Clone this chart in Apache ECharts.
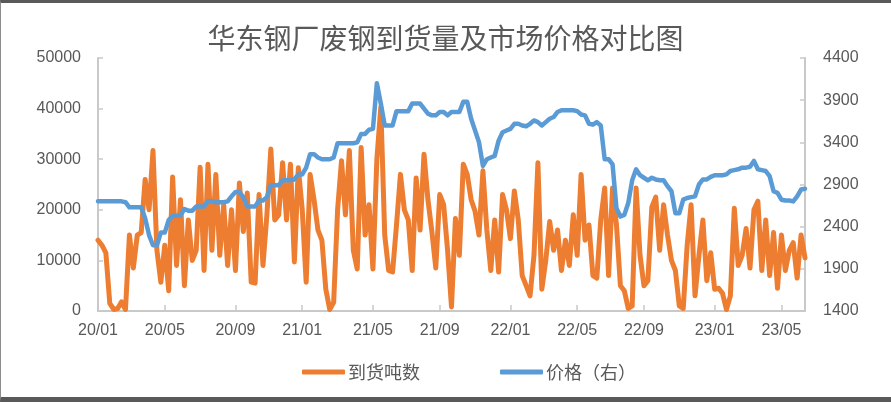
<!DOCTYPE html>
<html>
<head>
<meta charset="utf-8">
<title>华东钢厂废钢到货量及市场价格对比图</title>
<script src="https://cdn.jsdelivr.net/npm/echarts@6/dist/echarts.min.js"></script>
<style>
  html, body { margin: 0; padding: 0; background: #fff; }
  #wrap { position: relative; width: 891px; height: 402px; }
  #chart { position: absolute; left: 0; top: 0; width: 891px; height: 402px; }
  #frame { position: absolute; left: 0; top: 0; width: 891px; height: 402px; box-sizing: border-box;
           border-top: 3px solid #595959; border-bottom: 5px solid #595959; border-left: 1px solid #8c8c8c;
           pointer-events: none; }
</style>
</head>
<body>
<div id="wrap">
  <div id="chart"></div>
  <div id="frame"></div>
</div>
<script>
// 周度数据，起始 2020-01-03
const startDate = '2020-01-03';
const weekCount = 181;

// 到货吨数（左轴）
const arrivals = [
  14000, 13000, 11500, 1500, 300, 500, 1800, 300, 15000, 8500,
  15000, 15500, 26000, 20000, 31700, 12000, 5700, 13000, 4000, 26500,
  9000, 22000, 5000, 18000, 10000, 12000, 28400, 8000, 29000, 12000,
  27000, 11000, 21000, 9000, 20000, 8000, 25300, 15700, 23300, 5700,
  5500, 23000, 9000, 19000, 32000, 18000, 19000, 29300, 18000, 29000,
  9700, 28300, 20000, 5700, 27000, 22000, 16000, 14000, 4300, 300,
  1700, 20000, 29700, 19000, 31700, 12000, 8300, 32300, 15000, 21000,
  8300, 30000, 40300, 15000, 8000, 7700, 17000, 27000, 20000, 18000,
  8000, 26300, 16000, 31000, 22000, 15700, 8500, 23000, 21000, 12000,
  800, 18300, 11000, 29000, 27000, 22000, 19700, 15000, 27700, 16000,
  8000, 18000, 7700, 23000, 20000, 14300, 23700, 18000, 7000, 5000,
  3000, 11000, 29300, 4300, 10000, 17700, 12000, 16000, 8000, 14000,
  9000, 19000, 11000, 27000, 14000, 17000, 7000, 6500, 18000, 24300,
  7000, 24300, 17000, 5000, 4000, 500, 1000, 24300, 11000, 5000,
  6000, 20500, 22500, 12000, 21000, 15000, 10000, 8000, 1000, 500,
  13000, 21000, 3000, 11000, 18000, 6000, 11500, 4300, 4500, 3500,
  300, 3000, 20300, 9000, 11000, 16300, 8500, 20000, 21700, 8000,
  18000, 7000, 15500, 4500, 15000, 8000, 12000, 13500, 6500, 15000,
  10500
];

// 价格（右轴）
const prices = [
  2700, 2700, 2700, 2700, 2700, 2700, 2700, 2690, 2630, 2630,
  2630, 2630, 2500, 2300, 2180, 2180, 2330, 2330, 2480, 2530,
  2530, 2530, 2610, 2590, 2590, 2640, 2640, 2640, 2700, 2700,
  2690, 2690, 2690, 2700, 2760, 2810, 2810, 2750, 2640, 2640,
  2640, 2710, 2710, 2750, 2890, 2890, 2890, 2950, 2950, 2950,
  2960, 3020, 3020, 3100, 3260, 3260, 3220, 3200, 3200, 3200,
  3220, 3390, 3390, 3390, 3390, 3390, 3400, 3500, 3500, 3550,
  3560, 4100, 3860, 3600, 3600, 3600, 3770, 3770, 3770, 3770,
  3860, 3860, 3860, 3800, 3740, 3720, 3720, 3760, 3760, 3720,
  3760, 3760, 3760, 3880, 3880, 3680, 3540, 3400, 3120, 3200,
  3220, 3240, 3420, 3520, 3540, 3560, 3620, 3620, 3600, 3590,
  3620, 3660, 3640, 3600, 3640, 3680, 3700, 3760, 3780, 3780,
  3780, 3780, 3770, 3730, 3720, 3620, 3610, 3640, 3600, 3200,
  3200, 3140, 2620, 2520, 2540, 2680, 2950, 3080, 3010, 2980,
  2950, 2980, 2960, 2950, 2950, 2880, 2820, 2560, 2560, 2720,
  2740, 2750, 2760, 2900, 2960, 2960, 2990, 3010, 3010, 3010,
  3020, 3060, 3070, 3080, 3100, 3100, 3110, 3180, 3080, 3070,
  3060, 3000, 2820, 2800, 2720, 2710, 2710, 2700, 2760, 2840,
  2850
];

const labelMonths = [1, 5, 9];

function pad(n) { return n < 10 ? '0' + n : '' + n; }

const dates = [];
(function () {
  let d = new Date(startDate + 'T00:00:00Z');
  for (let i = 0; i < weekCount; i++) {
    dates.push(d.getUTCFullYear() + '-' + pad(d.getUTCMonth() + 1) + '-' + pad(d.getUTCDate()));
    d = new Date(d.getTime() + 7 * 86400000);
  }
})();

function isLabelWeek(index, value) {
  const p = value.split('-');
  return labelMonths.indexOf(+p[1]) >= 0 && +p[2] <= 7;
}

const axisGray = '#c9c9c9';
const textGray = '#595959';
const numFont = 'Liberation Sans';
const cjkFont = 'Noto Sans CJK SC';

const chart = echarts.init(document.getElementById('chart'));
chart.setOption({
  animation: false,
  title: {
    text: '华东钢厂废钢到货量及市场价格对比图',
    left: 'center',
    top: 19,
    textStyle: { fontSize: 28, fontWeight: 'normal', color: textGray, fontFamily: cjkFont },
  },
  legend: {
    left: 297,
    top: 358,
    itemWidth: 43,
    itemHeight: 5,
    itemGap: 80,
    icon: 'roundRect',
    textStyle: { fontSize: 18, color: textGray, fontFamily: cjkFont, padding: [0, 0, 0, -2] },
    data: ['到货吨数', '价格（右）'],
  },
  grid: {
    left: 98,
    right: 86,
    top: 58,
    bottom: 91,
    containLabel: false,
  },
  xAxis: {
    type: 'category',
    boundaryGap: false,
    data: dates,
    axisLine: { lineStyle: { color: axisGray, width: 2 } },
    axisTick: { inside: true, length: 6, interval: isLabelWeek, lineStyle: { color: axisGray, width: 1.5 } },
    axisLabel: {
      interval: isLabelWeek,
      margin: 12,
      color: textGray,
      fontSize: 16,
      fontFamily: numFont,
      formatter: function (v) {
        const p = v.split('-');
        return p[0].slice(2) + '/' + p[1];
      },
    },
    splitLine: { show: false },
  },
  yAxis: [{
    type: 'value',
    min: 0,
    max: 50000,
    interval: 10000,
    axisLine: { show: true, lineStyle: { color: axisGray, width: 2 } },
    axisTick: { show: true, inside: true, length: 5, lineStyle: { color: axisGray, width: 1.5 } },
    axisLabel: { margin: 17, color: textGray, fontSize: 16, fontFamily: numFont, formatter: (v) => String(v) },
    splitLine: { show: false },
  }, {
    type: 'value',
    position: 'right',
    min: 1400,
    max: 4400,
    interval: 500,
    axisLine: { show: true, lineStyle: { color: axisGray, width: 2 } },
    axisTick: { show: true, inside: true, length: 5, lineStyle: { color: axisGray, width: 1.5 } },
    axisLabel: { margin: 18, color: textGray, fontSize: 16, fontFamily: numFont, formatter: (v) => String(v) },
    splitLine: { show: false },
  }],
  series: [{
    name: '到货吨数',
    type: 'line',
    data: arrivals,
    yAxisIndex: 0,
    showSymbol: false,
    symbol: 'none',
    itemStyle: { color: '#ED7D31' },
    lineStyle: { color: '#ED7D31', width: 5, cap: 'round', join: 'round' },
    z: 2,
  }, {
    name: '价格（右）',
    type: 'line',
    data: prices,
    yAxisIndex: 1,
    showSymbol: false,
    symbol: 'none',
    itemStyle: { color: '#5B9BD5' },
    lineStyle: { color: '#5B9BD5', width: 4.5, cap: 'round', join: 'round' },
    z: 3,
  }],
});
</script>
</body>
</html>
